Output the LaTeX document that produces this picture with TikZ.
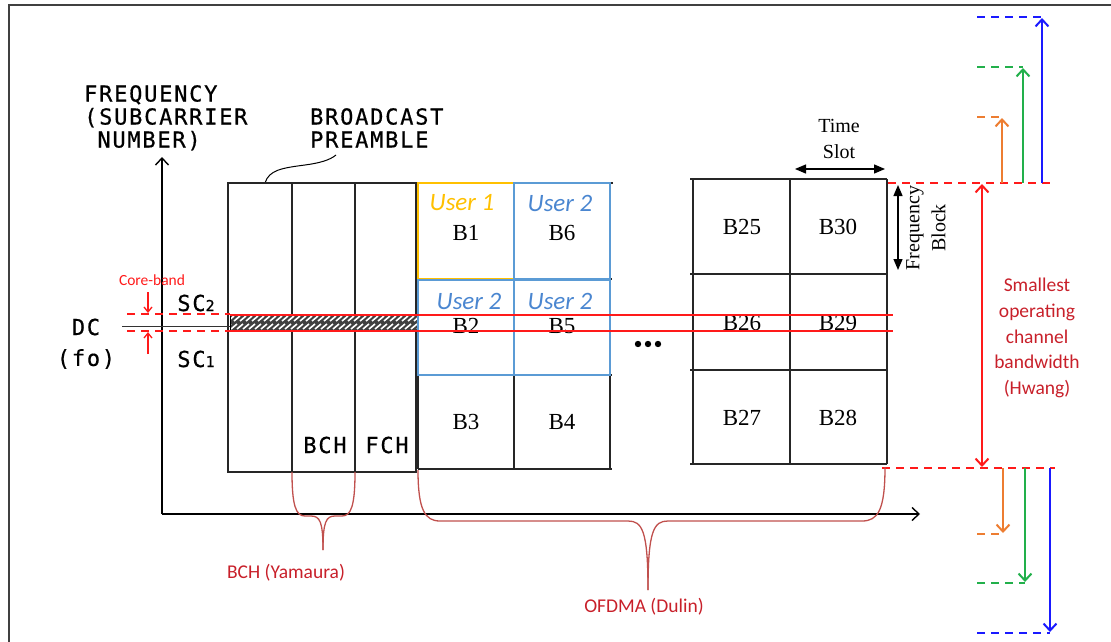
\documentclass[tikz,border=0pt]{standalone}
\usepackage{fontspec}
\setmainfont{Liberation Serif}
\newfontfamily\patfont[LetterSpace=8,FakeBold=0.6]{DejaVu Sans Mono}
\newfontfamily\calfont{Carlito}
\usetikzlibrary{arrows.meta}
\definecolor{uyel}{HTML}{FFC000}
\definecolor{ublue}{HTML}{5B9BD5}
\definecolor{utext}{HTML}{4A86D0}
\definecolor{redline}{HTML}{FF1A1A}
\definecolor{annred}{HTML}{C8202A}
\definecolor{bracered}{HTML}{C0504D}
\definecolor{orng}{HTML}{ED7D31}
\definecolor{grn}{HTML}{22B04B}
\definecolor{blu}{HTML}{1A1AFF}
\begin{document}
\begin{tikzpicture}[x=1pt,y=-1pt,
  pat/.style={font=\patfont\fontsize{22}{23}\selectfont, inner sep=0pt},
  blab/.style={font=\fontsize{23}{24}\selectfont, inner sep=0pt},
  tlab/.style={font=\fontsize{20}{26}\selectfont, inner sep=0pt, align=center},
  usr/.style={font=\calfont\itshape\fontsize{25}{26}\selectfont, inner sep=0pt},
  ann/.style={font=\calfont\fontsize{19.5}{25.7}\selectfont, text=annred, inner sep=0pt, align=center},
  gridline/.style={line width=1.4pt, black!85},
  ubox/.style={line width=2.5pt},
  redl/.style={line width=1.5pt, redline},
  rdash/.style={line width=2pt, redline, dash pattern=on 8pt off 6pt},
  cdash/.style={line width=2pt, dash pattern=on 8pt off 6pt},
  barb/.style={-{Straight Barb[length=7pt,width=13pt]}},
  tri/.style={{Triangle[length=11pt,width=9pt]}-{Triangle[length=11pt,width=9pt]}, line width=1.3pt},
  brace/.style={line width=1.3pt, bracered},
  smallarr/.style={line width=1.3pt, redline, -{Straight Barb[length=5pt,width=8pt]}}
]
\useasboundingbox (0,0) rectangle (1111,642);
% frame
\draw[line width=2.5pt, black!75] (9,642) -- (9,5) -- (1111,5);

% axes
\coordinate (O) at (162,514);
\coordinate (Ytip) at (162,157);
\coordinate (Xtip) at (920,514);
\draw[line width=1.4pt, barb] (O) -- (Ytip);
\draw[line width=1.4pt, barb] (O) -- (Xtip);

% axis label
\node[pat, anchor=north west, align=left] (flab) at (84,85) {FREQUENCY\\(SUBCARRIER\\\hphantom{(}NUMBER)};
\node[pat, anchor=north west, align=left] (bplab) at (310,108) {BROADCAST\\PREAMBLE};
\coordinate (lead1) at (265,183);
\coordinate (lead2) at (336,155);
\draw[line width=1pt] (lead1) .. controls (269,170) and (282,168) .. (305,165) .. controls (320,163) and (330,160) .. (lead2);

% left block
\draw[gridline] (228,183) rectangle (416,472);
\draw[gridline] (292,183) -- (292,472);
\draw[gridline] (355,183) -- (355,472);
\node[pat] (bch) at (325,445) {BCH};
\node[pat] (fch) at (387,445) {FCH};

% hatched band
\begin{scope}
  \clip (230,314) rectangle (417,331);
  \fill[black!75] (230,314) rectangle (417,331);
  \foreach \x in {222,228,...,420} {
    \draw[white, line width=1.6pt] (\x,321) -- (\x+6,316);
    \draw[white, line width=1.6pt] (\x+3,329) -- (\x+9,324);
  }
\end{scope}
\draw[line width=1pt] (230,314) rectangle (417,331);

% B grid
\draw[gridline] (228,183) -- (613,183);
\foreach \x in {418,514,610} \draw[gridline] (\x,183) -- (\x,469);
\foreach \y in {279,375,469} \draw[gridline] (418,\y) -- (612,\y);
\draw[ubox, uyel] (418,183) rectangle (514,279);
\draw[ubox, ublue] (514,183) rectangle (610,279);
\draw[ubox, ublue] (418,280) rectangle (514,375);
\draw[ubox, ublue] (514,280) rectangle (610,375);
\node[usr, text=uyel] (u1) at (462,203) {User 1};
\node[usr, text=utext] (u6) at (560,203) {User 2};
\node[usr, text=utext] (u2) at (469,301) {User 2};
\node[usr, text=utext] (u5) at (560,301) {User 2};
\node[blab] (b1) at (466,233) {B1};
\node[blab] (b6) at (562,233) {B6};
\node[blab] (b2) at (466,326) {B2};
\node[blab] (b5) at (562,326) {B5};
\node[blab] (b3) at (466,422) {B3};
\node[blab] (b4) at (562,422) {B4};

% dots
\foreach \x in {638,648,658} \fill (\x,344) circle (3.2pt);

% right grid
\foreach \x in {693,790,887} \draw[gridline] (\x,179) -- (\x,464);
\foreach \y in {179,274,370,464} \draw[gridline] (690,\y) -- (887,\y);
\node[blab] (b25) at (742,227) {B25};
\node[blab] (b30) at (838,227) {B30};
\node[blab] (b26) at (742,323) {B26};
\node[blab] (b29) at (838,323) {B29};
\node[blab] (b27) at (742,418) {B27};
\node[blab] (b28) at (838,418) {B28};

% time slot / frequency block
\node[tlab] (ts) at (839,139) {Time\\Slot};
\coordinate (ts1) at (795,169);
\coordinate (ts2) at (885,169);
\draw[tri] (ts1) -- (ts2);
\coordinate (fb1) at (898,185);
\coordinate (fb2) at (898,270);
\draw[tri] (fb1) -- (fb2);
\node[tlab, rotate=90] (fb) at (926,228) {Frequency\\Block};

% core band red lines
\draw[redl] (230,315) -- (893,315);
\draw[redl] (230,331) -- (893,331);
\draw[rdash] (127,314) -- (230,314);
\draw[rdash] (127,331) -- (230,331);
\draw[line width=1pt, black!80] (122,326) -- (230,326);
\node[font=\calfont\fontsize{15.5}{18}\selectfont, text=redline, inner sep=0pt] (core) at (152,280) {Core-band};
\coordinate (ca1) at (148,292);
\coordinate (ca2) at (148,313);
\coordinate (cb1) at (148,354);
\coordinate (cb2) at (148,332);
\draw[smallarr] (ca1) -- (ca2);
\draw[smallarr] (cb1) -- (cb2);
\node[pat] (dc) at (86,327) {DC};
\node[pat] (fo) at (86,359) {(fo)};
\node[pat] (sc2) at (196,303) {SC{\fontsize{15}{15}\selectfont 2}};
\node[pat] (sc1) at (196,359) {SC{\fontsize{15}{15}\selectfont 1}};

% bandwidth annotation
\draw[rdash] (888,183) -- (1053,183);
\draw[rdash] (882,468) -- (1055,468);
\coordinate (bw1) at (982,184);
\coordinate (bw2) at (982,467);
\draw[line width=2pt, redline, {Straight Barb[length=7pt,width=13pt]}-{Straight Barb[length=7pt,width=13pt]}] (bw1) -- (bw2);
\node[ann] (hw) at (1037,338) {Smallest\\operating\\channel\\bandwidth\\(Hwang)};

% colored arrows up
\draw[cdash, orng] (977,117) -- (1002,117);
\draw[cdash, grn] (977,67) -- (1023,67);
\draw[cdash, blu] (977,17) -- (1042,17);
\coordinate (ou0) at (1002,183); \coordinate (ou1) at (1002,118);
\coordinate (gu0) at (1023,183); \coordinate (gu1) at (1023,68);
\coordinate (bu0) at (1042,183); \coordinate (bu1) at (1042,18);
\draw[line width=2pt, orng, barb] (ou0) -- (ou1);
\draw[line width=2pt, grn, barb] (gu0) -- (gu1);
\draw[line width=2pt, blu, barb] (bu0) -- (bu1);
% colored arrows down
\draw[cdash, orng] (977,534) -- (1003,534);
\draw[cdash, grn] (977,583) -- (1025,583);
\draw[cdash, blu] (977,633) -- (1050,633);
\coordinate (od0) at (1003,468); \coordinate (od1) at (1003,533);
\coordinate (gd0) at (1025,468); \coordinate (gd1) at (1025,582);
\coordinate (bd0) at (1050,468); \coordinate (bd1) at (1050,632);
\draw[line width=2pt, orng, barb] (od0) -- (od1);
\draw[line width=2pt, grn, barb] (gd0) -- (gd1);
\draw[line width=2pt, blu, barb] (bd0) -- (bd1);

% braces
\coordinate (bchL) at (292,472);
\coordinate (bchR) at (355,472);
\coordinate (bchT) at (323,550);
\draw[brace] (bchL) .. controls (292,506) and (296,516) .. (305,516) -- (311,516) .. controls (320,516) and (323,522) .. (bchT);
\draw[brace] (bchR) .. controls (355,506) and (351,516) .. (342,516) -- (335,516) .. controls (326,516) and (323,522) .. (bchT);
\node[ann] (bchy) at (286,573) {BCH (Yamaura)};

\coordinate (ofL) at (418,470);
\coordinate (ofR) at (885,467);
\coordinate (ofT) at (648,590);
\draw[brace] (ofL) .. controls (418,510) and (425,521) .. (440,521) -- (628,521) .. controls (642,521) and (648,530) .. (ofT);
\draw[brace] (ofR) .. controls (885,510) and (878,521) .. (862,521) -- (668,521) .. controls (654,521) and (648,530) .. (ofT);
\node[ann] (ofdma) at (644,607) {OFDMA (Dulin)};
\end{tikzpicture}
\end{document}
